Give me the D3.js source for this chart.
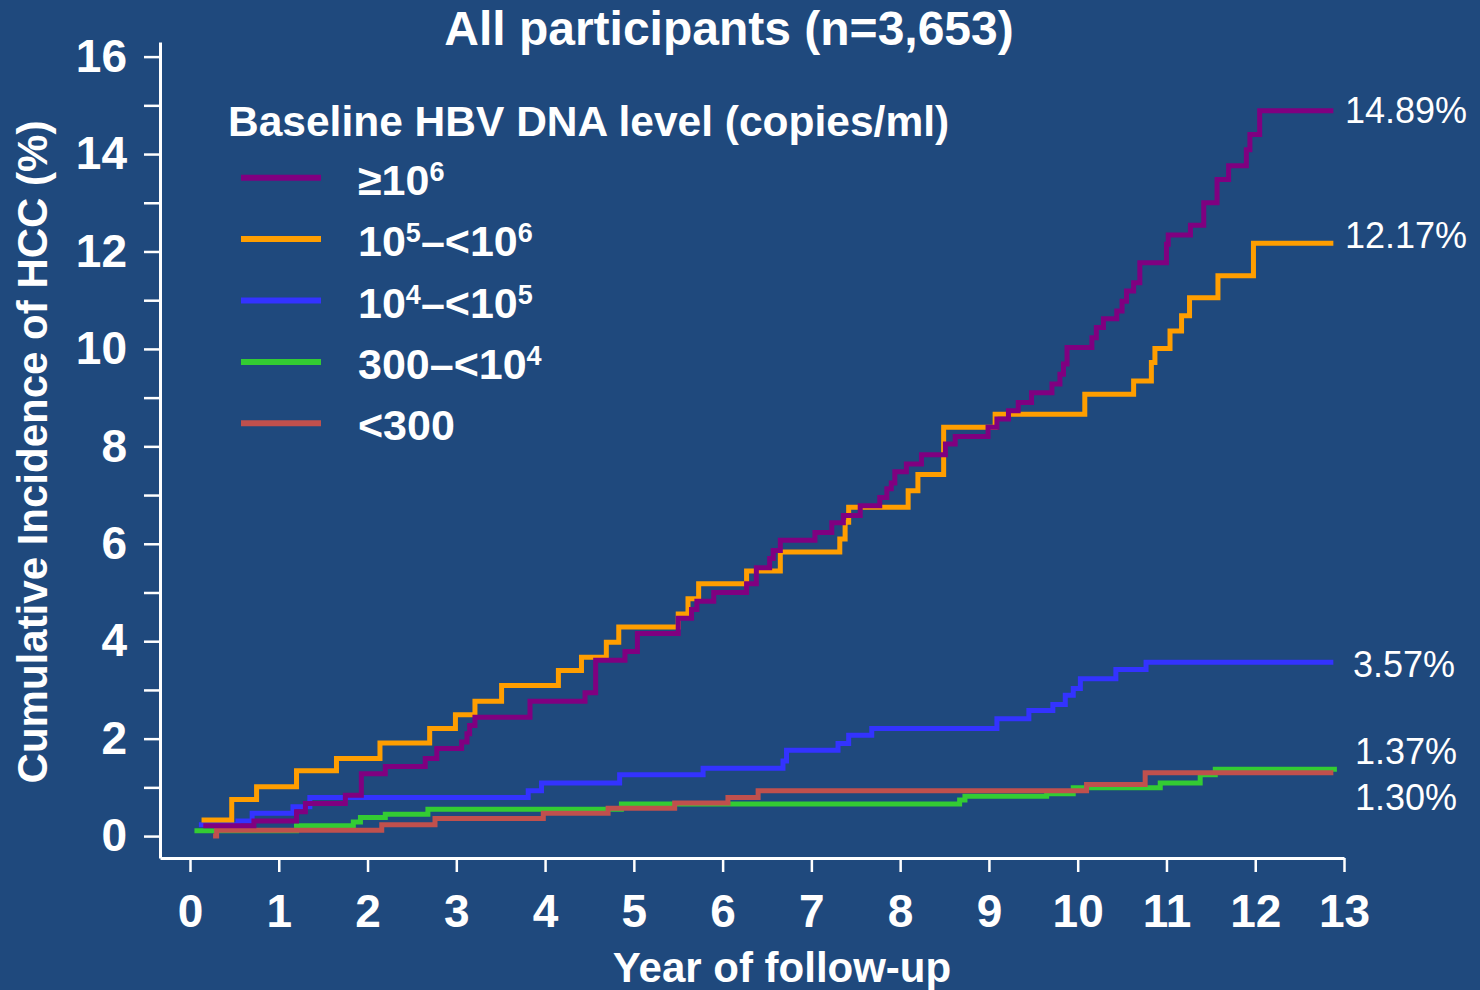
<!DOCTYPE html>
<html>
<head>
<meta charset="utf-8">
<script src="https://cdn.jsdelivr.net/npm/d3@7"></script>
<style>
  html, body { margin: 0; padding: 0; background: #1f497d; }
  svg { display: block; }
  text { font-family: "Liberation Sans", Arial, Helvetica, sans-serif; fill: #ffffff; }
</style>
</head>
<body>
<svg id="chart" width="1480" height="990"></svg>
<script>
// Cumulative incidence of HCC (%) by baseline HBV DNA level, step curves.
// Each group: follow-up year at which a step occurs, and the level after it.
const yearsHigh = [0.15,0.72,1.20,1.30,1.75,1.93,2.20,2.65,2.78,3.06,3.12,3.15,3.21,3.83,4.45,4.57,4.90,5.04,5.50,5.65,5.71,5.90,6.27,6.38,6.53,6.57,6.65,7.04,7.23,7.36,7.55,7.77,7.85,7.90,7.94,8.07,8.24,8.51,8.62,8.99,9.09,9.22,9.33,9.48,9.71,9.80,9.84,9.88,10.16,10.21,10.29,10.44,10.50,10.55,10.63,10.70,11.00,11.02,11.27,11.42,11.57,11.70,11.90,11.94,12.05,12.88];
const incHigh   = [0.21,0.31,0.50,0.67,0.84,1.28,1.43,1.59,1.80,1.93,2.10,2.27,2.44,2.77,2.94,3.61,3.79,4.16,4.47,4.65,4.82,5.00,5.18,5.51,5.70,5.86,6.07,6.23,6.43,6.58,6.78,6.95,7.13,7.25,7.48,7.64,7.83,8.05,8.20,8.39,8.56,8.73,8.90,9.10,9.28,9.48,9.69,10.03,10.23,10.44,10.62,10.78,10.98,11.19,11.36,11.77,12.15,12.34,12.54,13.00,13.48,13.76,14.09,14.40,14.89,14.89];

const yearsMidHigh = [0.13,0.47,0.75,1.20,1.65,2.14,2.70,2.99,3.21,3.51,4.15,4.41,4.69,4.83,5.50,5.61,5.73,6.27,6.65,7.32,7.38,7.42,8.09,8.20,8.49,9.07,10.08,10.63,10.83,10.87,11.04,11.17,11.26,11.58,11.98,12.88];
const incMidHigh   = [0.33,0.75,1.01,1.34,1.59,1.91,2.21,2.49,2.77,3.09,3.40,3.67,3.98,4.29,4.56,4.87,5.18,5.44,5.83,6.10,6.44,6.75,7.09,7.42,8.39,8.66,9.07,9.34,9.72,10.01,10.37,10.68,11.05,11.50,12.17,12.17];

const yearsMidLow = [0.10,0.54,0.70,1.16,1.35,3.81,3.96,4.84,5.78,6.68,6.72,7.30,7.42,7.68,9.09,9.45,9.72,9.86,9.95,10.03,10.43,10.77,12.88];
const incMidLow   = [0.23,0.31,0.47,0.60,0.79,0.93,1.09,1.26,1.39,1.54,1.76,1.90,2.07,2.21,2.41,2.58,2.70,2.89,3.03,3.23,3.42,3.57,3.57];

const yearsLow = [0.05,1.20,1.84,1.92,2.20,2.68,4.86,8.67,8.73,9.65,9.95,10.93,11.38,11.55,12.92];
const incLow   = [0.11,0.21,0.29,0.38,0.45,0.55,0.66,0.74,0.82,0.87,0.99,1.09,1.26,1.37,1.37];

const yearsUndetect = [0.26,0.30,2.16,2.76,3.98,4.71,5.46,6.06,6.40,10.10,10.76,12.88];
const incUndetect   = [0.00,0.12,0.23,0.36,0.47,0.57,0.68,0.79,0.93,1.06,1.30,1.30];

// Legend labels: pieces of text, with superscript exponents flagged
const groupLabels = [
  [["≥10", false], ["6", true]],
  [["10", false], ["5", true], ["–<10", false], ["6", true]],
  [["10", false], ["4", true], ["–<10", false], ["5", true]],
  [["300–<10", false], ["4", true]],
  [["<300", false]]
];
const groupColors = ["#800080", "#ff9e00", "#3333ff", "#33cc33", "#c0504d"];

const xTicks = d3.range(0, 14);
const yTicks = d3.range(0, 17);

const titleText   = "All participants (n=3,653)";
const legendTitle = "Baseline HBV DNA level (copies/ml)";
const xTitle = "Year of follow-up";
const yTitle = "Cumulative Incidence of HCC (%)";

const groups = [
  { years: yearsHigh,     inc: incHigh },
  { years: yearsMidHigh,  inc: incMidHigh },
  { years: yearsMidLow,   inc: incMidLow },
  { years: yearsLow,      inc: incLow },
  { years: yearsUndetect, inc: incUndetect }
];

// ---- layout ----
const svg = d3.select("#chart");
const x = d3.scaleLinear().domain([-0.338, 13]).range([160, 1344]);
const y = d3.scaleLinear().domain([-0.45, 16.3]).range([858, 42]);

// end-of-curve label placement (x position, vertical offset from the curve end)
const endLabelX  = [1345, 1345, 1353, 1355, 1355];
const endLabelDy = [12, 5, 15, -5, 37];

// title
svg.append("text")
  .attr("x", 729).attr("y", 45)
  .attr("text-anchor", "middle")
  .style("font-size", "48px").style("font-weight", "bold")
  .text(titleText);

// axes
const xAxis = d3.axisBottom(x).tickValues(xTicks).tickSize(14).tickSizeOuter(0).tickPadding(22);
const yAxis = d3.axisLeft(y).tickValues(yTicks).tickSize(16).tickSizeOuter(0).tickPadding(17)
  .tickFormat(d => d % 2 === 0 ? d : "");

const gx = svg.append("g").attr("transform", "translate(0,858)").call(xAxis);
const gy = svg.append("g").attr("transform", "translate(160,0)").call(yAxis);

[gx, gy].forEach(g => {
  g.selectAll(".domain").attr("stroke", "#ffffff").attr("stroke-width", 3);
  g.selectAll(".tick line").attr("stroke", "#ffffff").attr("stroke-width", 2.5);
  g.selectAll(".tick text")
    .attr("fill", "#ffffff")
    .style("font-family", '"Liberation Sans", Arial, sans-serif')
    .style("font-size", "46px").style("font-weight", "bold");
});

// axis titles
svg.append("text")
  .attr("x", 782).attr("y", 982)
  .attr("text-anchor", "middle")
  .style("font-size", "42px").style("font-weight", "bold")
  .text(xTitle);

svg.append("text")
  .attr("transform", "translate(47,452) rotate(-90)")
  .attr("text-anchor", "middle")
  .style("font-size", "42px").style("font-weight", "bold")
  .text(yTitle);

// step curves
const line = d3.line()
  .x(d => x(d[0]))
  .y(d => y(d[1]))
  .curve(d3.curveStepAfter);

const drawOrder = [3, 4, 2, 1, 0];
drawOrder.forEach(i => {
  const g = groups[i];
  const pts = g.years.map((t, j) => [t, g.inc[j]]);
  svg.append("path")
    .datum(pts)
    .attr("d", line)
    .attr("fill", "none")
    .attr("stroke", groupColors[i])
    .attr("stroke-width", 5)
    .attr("stroke-linejoin", "miter");
});

// end labels from the final value of each curve
const fmt = d3.format(".2f");
groups.forEach((g, i) => {
  const last = g.inc[g.inc.length - 1];
  svg.append("text")
    .attr("x", endLabelX[i])
    .attr("y", y(last) + endLabelDy[i])
    .style("font-size", "36px")
    .text(fmt(last) + "%");
});

// legend
svg.append("text")
  .attr("x", 228).attr("y", 136)
  .style("font-size", "42.5px").style("font-weight", "bold")
  .text(legendTitle);

groupLabels.forEach((parts, i) => {
  const ly = 177.7 + i * 61.4;
  svg.append("line")
    .attr("x1", 241).attr("x2", 321)
    .attr("y1", ly).attr("y2", ly)
    .attr("stroke", groupColors[i])
    .attr("stroke-width", 6);
  const t = svg.append("text")
    .attr("x", 358).attr("y", ly + 17)
    .style("font-size", "43px").style("font-weight", "bold");
  // superscripts are raised and smaller; the next normal piece drops back down
  let raised = false;
  parts.forEach(([s, sup]) => {
    const dy = (sup && !raised) ? -14 : (!sup && raised) ? 14 : 0;
    const ts = t.append("tspan").attr("dy", dy).text(s);
    if (sup) ts.style("font-size", "27px");
    raised = sup;
  });
});
</script>
</body>
</html>
